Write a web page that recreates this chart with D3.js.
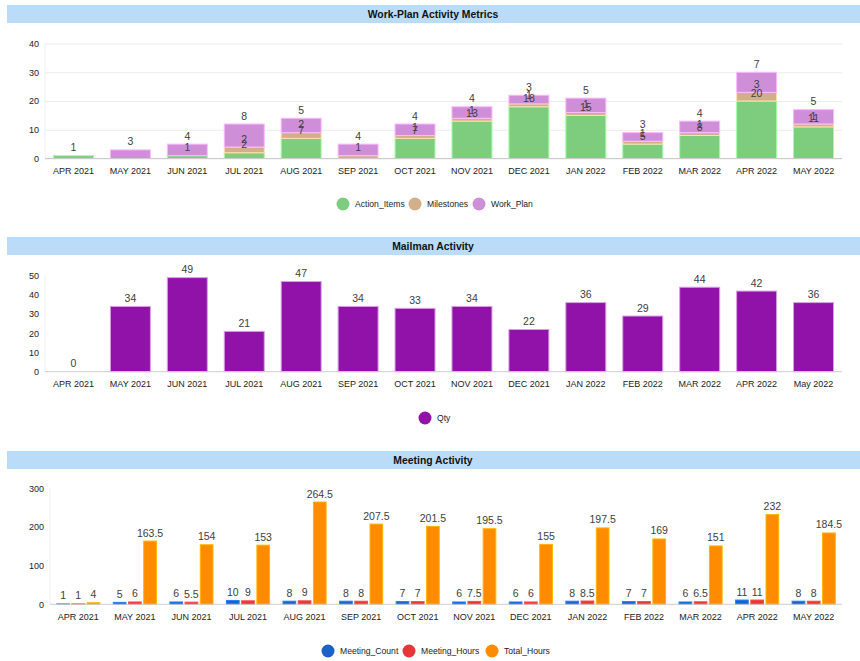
<!DOCTYPE html>
<html>
<head>
<meta charset="utf-8">
<script src="https://cdn.jsdelivr.net/npm/d3@7"></script>
<style>
  body { margin: 0; background: #fff; font-family: "Liberation Sans", Arial, sans-serif; }
  .tick text { font-family: "Liberation Sans", Arial, sans-serif; }
</style>
</head>
<body>
<div id="chart"></div>
<script>

// categories
let months = ["APR 2021", "MAY 2021", "JUN 2021", "JUL 2021", "AUG 2021", "SEP 2021", "OCT 2021",
    "NOV 2021", "DEC 2021", "JAN 2022", "FEB 2022", "MAR 2022", "APR 2022", "MAY 2022"];
let mailMonths = ["APR 2021", "MAY 2021", "JUN 2021", "JUL 2021", "AUG 2021", "SEP 2021", "OCT 2021",
    "NOV 2021", "DEC 2021", "JAN 2022", "FEB 2022", "MAR 2022", "APR 2022", "May 2022"];

// work-plan series (null = no value)
let actionItems = [1, null, 1, 2, 7, null, 7, 13, 18, 15, 5, 8, 20, 11];
let milestones  = [null, null, null, 2, 2, 1, 1, 1, 1, 1, 1, 1, 3, 1];
let workPlan    = [null, 3, 4, 8, 5, 4, 4, 4, 3, 5, 3, 4, 7, 5];

// mailman
let qty = [0, 34, 49, 21, 47, 34, 33, 34, 22, 36, 29, 44, 42, 36];

// meetings
let meetingCount = [1, 5, 6, 10, 8, 8, 7, 6, 6, 8, 7, 6, 11, 8];
let meetingHours = [1, 6, 5.5, 9, 9, 8, 7, 7.5, 6, 8.5, 7, 6.5, 11, 8];
let totalHours   = [4, 163.5, 154, 153, 264.5, 207.5, 201.5, 195.5, 155, 197.5, 169, 151, 232, 184.5];

let width = 860;
let height = 661;
let rightX = 842;
let font = '"Liberation Sans", Arial, sans-serif';
let labelColor = "#404040";

let svg = d3.select("#chart")
    .append("svg")
    .attr("width", width)
    .attr("height", height);

/* title bar */
function titleBar(y, text) {
    svg.append("rect")
        .attr("x", 7).attr("y", y)
        .attr("width", width - 7).attr("height", 18)
        .attr("fill", "#bbdcf8");
    svg.append("text")
        .attr("x", 433).attr("y", y + 13)
        .attr("text-anchor", "middle")
        .attr("font-family", font)
        .attr("font-weight", "bold")
        .attr("font-size", "10.4px")
        .attr("fill", "#111")
        .text(text);
}

/* axes */
function drawAxes(x, y, left, bottom, top, ticks, grid) {
    let yAxis = d3.axisLeft(y)
        .tickValues(ticks)
        .tickSize(grid ? -(rightX - left) : 0)
        .tickPadding(6);
    let gy = svg.append("g")
        .attr("transform", "translate(" + left + ",0)")
        .call(yAxis);
    gy.select(".domain").remove();
    gy.selectAll(".tick line").attr("stroke", "#ebebeb");
    gy.selectAll(".tick text")
        .attr("font-size", "9px")
        .attr("fill", "#222")
        .attr("x", -6);

    // thin left axis line
    svg.append("line")
        .attr("x1", left).attr("x2", left)
        .attr("y1", top).attr("y2", bottom)
        .attr("stroke", "#eeeeee");

    let xAxis = d3.axisBottom(x).tickSize(0).tickPadding(9);
    let gx = svg.append("g")
        .attr("transform", "translate(0," + bottom + ")")
        .call(xAxis);
    gx.select(".domain").remove();
    gx.selectAll(".tick text")
        .attr("font-size", "9px")
        .attr("fill", "#222");
}

function baseline(left, bottom) {
    svg.append("line")
        .attr("x1", left).attr("x2", rightX)
        .attr("y1", bottom).attr("y2", bottom)
        .attr("stroke", "#cccccc");
}

function legend(items, xs, y) {
    items.forEach(function (it, i) {
        svg.append("circle")
            .attr("cx", xs[i]).attr("cy", y).attr("r", 6.5)
            .attr("fill", it.color);
        svg.append("text")
            .attr("x", xs[i] + 12).attr("y", y + 3.1)
            .attr("font-family", font)
            .attr("font-size", "8.6px")
            .attr("fill", "#222")
            .text(it.name);
    });
}

function edge(c) {
    return d3.color(c).brighter(0.7).formatHex();
}

/* ---------- Work-Plan Activity Metrics ---------- */
titleBar(5, "Work-Plan Activity Metrics");
{
    let left = 45, bottom = 158.5, top = 43.5;
    let x = d3.scaleBand().domain(months).range([left, rightX]).paddingInner(0.28).paddingOuter(0.14);
    let y = d3.scaleLinear().domain([0, 40]).range([bottom, top]);
    drawAxes(x, y, left, bottom, top, [0, 10, 20, 30, 40], true);

    let keys = ["Action_Items", "Milestones", "Work_Plan"];
    let colors = ["#7ecd7f", "#d3af89", "#cf8fd8"];
    let rows = months.map(function (m, i) {
        return { month: m, Action_Items: actionItems[i], Milestones: milestones[i], Work_Plan: workPlan[i] };
    });
    let stack = d3.stack().keys(keys).value(function (d, k) { return d[k] || 0; });
    let series = stack(rows);

    series.forEach(function (s, si) {
        svg.append("g").selectAll("rect")
            .data(s.filter(function (d) { return d[1] - d[0] > 0; }))
            .join("rect")
            .attr("x", function (d) { return x(d.data.month) + 0.5; })
            .attr("width", x.bandwidth() - 1)
            .attr("y", function (d) { return y(d[1]); })
            .attr("height", function (d) { return y(d[0]) - y(d[1]); })
            .attr("fill", colors[si])
            .attr("stroke", edge(colors[si]))
            .attr("stroke-width", 1);
    });
    baseline(left, bottom);

    series.forEach(function (s) {
        svg.append("g").selectAll("text")
            .data(s.filter(function (d) { return d.data[s.key]; }))
            .join("text")
            .attr("x", function (d) { return x(d.data.month) + x.bandwidth() / 2; })
            .attr("y", function (d) { return y(d[1]) - 4.5; })
            .attr("text-anchor", "middle")
            .attr("font-family", font)
            .attr("font-size", "10.5px")
            .attr("fill", labelColor)
            .text(function (d) { return d.data[s.key]; });
    });

    legend(keys.map(function (k, i) { return { name: k, color: colors[i] }; }), [343, 415, 479], 204);
}

/* ---------- Mailman Activity ---------- */
titleBar(237, "Mailman Activity");
{
    let left = 45, bottom = 371.7, top = 275.7;
    let x = d3.scaleBand().domain(mailMonths).range([left, rightX]).paddingInner(0.28).paddingOuter(0.14);
    let y = d3.scaleLinear().domain([0, 50]).range([bottom, top]);
    drawAxes(x, y, left, bottom, top, [0, 10, 20, 30, 40, 50], false);

    let purple = "#9112a9";
    svg.append("g").selectAll("rect")
        .data(qty.map(function (v, i) { return { m: mailMonths[i], v: v }; }).filter(function (d) { return d.v > 0; }))
        .join("rect")
        .attr("x", function (d) { return x(d.m) + 0.5; })
        .attr("width", x.bandwidth() - 1)
        .attr("y", function (d) { return y(d.v); })
        .attr("height", function (d) { return bottom - y(d.v); })
        .attr("fill", purple)
        .attr("stroke", "#d8a0e2")
        .attr("stroke-width", 1);
    baseline(left, bottom);

    svg.append("g").selectAll("text")
        .data(qty)
        .join("text")
        .attr("x", function (d, i) { return x(mailMonths[i]) + x.bandwidth() / 2; })
        .attr("y", function (d) { return y(d) - 4.5; })
        .attr("text-anchor", "middle")
        .attr("font-family", font)
        .attr("font-size", "10.5px")
        .attr("fill", labelColor)
        .text(function (d) { return d; });

    legend([{ name: "Qty", color: purple }], [425], 418);
}

/* ---------- Meeting Activity ---------- */
titleBar(451, "Meeting Activity");
{
    let left = 50, bottom = 604.3, top = 488.3;
    let x = d3.scaleBand().domain(months).range([left, rightX]).paddingInner(0.22).paddingOuter(0.11);
    let y = d3.scaleLinear().domain([0, 300]).range([bottom, top]);
    drawAxes(x, y, left, bottom, top, [0, 100, 200, 300], false);

    let keys = ["Meeting_Count", "Meeting_Hours", "Total_Hours"];
    let colors = ["#1a62c6", "#e5373a", "#ff8c00"];
    let values = [meetingCount, meetingHours, totalHours];
    let xs = d3.scaleBand().domain(keys).range([0, x.bandwidth()]).paddingInner(0.1);

    keys.forEach(function (k, ki) {
        let data = values[ki].map(function (v, i) { return { m: months[i], v: v }; });
        svg.append("g").selectAll("rect")
            .data(data)
            .join("rect")
            .attr("x", function (d) { return x(d.m) + xs(k) + 0.5; })
            .attr("width", xs.bandwidth() - 1)
            .attr("y", function (d) { return y(d.v); })
            .attr("height", function (d) { return bottom - y(d.v); })
            .attr("fill", colors[ki])
            .attr("stroke", edge(colors[ki]))
            .attr("stroke-width", 1);
    });
    baseline(left, bottom);

    keys.forEach(function (k, ki) {
        svg.append("g").selectAll("text")
            .data(values[ki])
            .join("text")
            .attr("x", function (d, i) { return x(months[i]) + xs(k) + xs.bandwidth() / 2; })
            .attr("y", function (d) { return y(d) - 4.5; })
            .attr("text-anchor", "middle")
            .attr("font-family", font)
            .attr("font-size", "10.5px")
            .attr("fill", labelColor)
            .text(function (d) { return d; });
    });

    legend(keys.map(function (k, i) { return { name: k, color: colors[i] }; }), [328, 409, 492], 651);
}

</script>
</body>
</html>
